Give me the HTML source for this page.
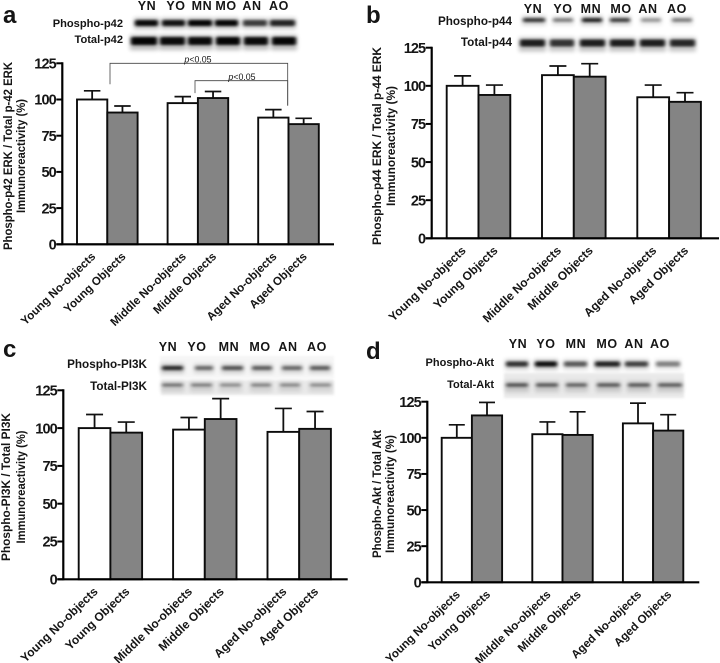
<!DOCTYPE html>
<html lang="en">
<head>
<meta charset="utf-8">
<title>Phospho-protein immunoreactivity by age and object exposure</title>
<style>
html,body{margin:0;padding:0;background:#fff;width:720px;height:663px;overflow:hidden}
svg{display:block;filter:blur(0.35px)}
text{font-family:"Liberation Sans",sans-serif;fill:#151515}
</style>
</head>
<body>
<svg id="figure" xmlns="http://www.w3.org/2000/svg" width="720" height="663" viewBox="0 0 720 663">
<defs>
<filter id="blot-blur" x="-30%" y="-150%" width="160%" height="400%"><feGaussianBlur stdDeviation="1.8 1.3"/></filter>
<filter id="blot-halo" x="-30%" y="-100%" width="160%" height="300%"><feGaussianBlur stdDeviation="2.2"/></filter>
<filter id="blot-soft" x="-10%" y="-30%" width="120%" height="160%"><feGaussianBlur stdDeviation="1.2"/></filter>
</defs>
</svg>
<script>
const categories = ['Young No-objects', 'Young Objects', 'Middle No-objects', 'Middle Objects', 'Aged No-objects', 'Aged Objects'];
const laneLabels = ['YN', 'YO', 'MN', 'MO', 'AN', 'AO'];
const tickLabels = [0, 25, 50, 75, 100, 125];

const valuesA = [100, 91, 97.5, 101, 87.5, 83];
const errorTopsA = [106, 95.5, 102, 105.5, 93, 87];
const valuesB = [100, 94, 107, 106, 92.5, 89.5];
const errorTopsB = [106.5, 100.5, 113, 114.5, 100.5, 95.5];
const valuesC = [100, 97, 99, 106, 97.5, 99.5];
const errorTopsC = [109, 104, 107, 119.5, 113, 111];
const valuesD = [100, 115.5, 102.5, 102, 110, 105];
const errorTopsD = [109, 124.5, 111, 118, 124, 116];

const panels = [
  { id: 'a', values: valuesA, tops: errorTopsA, axisX: 62.3, y0: 244.3, y125: 63.3, xEnd: 334, barLeft: 77, barW: 30.3, gap: 30, capW: 16.5,
    letterX: 3, letterY: 23, tickFs: 14.5, tickSp: -0.9, catFs: 11.6, catDx: 4, catDy: 13,
    title: ['Phospho-p42 ERK / Total p-42 ERK', 'Immunoreactivity (%)'], titleX: [12, 25], titleY: 156, titleLen: [188, 114], titleFs: 12,
    laneY: 10, laneXs: [147, 176, 202, 226, 252, 279], rowEnd: 123, rowFs: 11.1, rowY: [27, 43], rowNames: ['Phospho-p42', 'Total-p42'],
    bandY: [23, 41], bandH: [6, 8], bandX: [[135, 158], [162, 185], [188, 212], [215, 238], [243, 267], [270, 295]],
    bandX2: [[131, 157], [160, 185], [188, 212], [216, 240], [244, 268], [272, 296]],
    dark: [0.95, 0.9, 0.98, 0.97, 0.7, 0.82], dark2: [0.98, 0.95, 0.95, 0.98, 0.95, 0.97], bg: null },
  { id: 'b', values: valuesB, tops: errorTopsB, axisX: 431.7, y0: 238.3, y125: 47.7, xEnd: 719, barLeft: 446.7, barW: 31.8, gap: 31.7, capW: 17,
    letterX: 366, letterY: 23, tickFs: 14.5, tickSp: -0.9, catFs: 12, catDx: 4, catDy: 13,
    title: ['Phospho-p44 ERK / Total p-44 ERK', 'Immunoreactivity (%)'], titleX: [381, 395], titleY: 146, titleLen: [198, 120], titleFs: 12.4,
    laneY: 13, laneXs: [533, 563, 591, 621, 648, 677], rowEnd: 512, rowFs: 11.7, rowY: [25, 46], rowNames: ['Phospho-p44', 'Total-p44'],
    bandY: [20, 43], bandH: [4, 7], bandX: [[523, 545], [553, 573], [582, 602], [610, 630], [641, 661], [672, 692]],
    bandX2: [[520, 545], [550, 574], [580, 605], [610, 635], [640, 665], [670, 695]],
    dark: [0.72, 0.42, 0.82, 0.68, 0.32, 0.42], dark2: [0.85, 0.75, 0.85, 0.85, 0.85, 0.8], bg: null },
  { id: 'c', values: valuesC, tops: errorTopsC, axisX: 63.3, y0: 579.3, y125: 390.3, xEnd: 347.7, barLeft: 78.7, barW: 31.7, gap: 31, capW: 17,
    letterX: 3, letterY: 357, tickFs: 14.5, tickSp: -0.9, catFs: 12, catDx: 4, catDy: 13,
    title: ['Phospho-PI3K / Total PI3K', 'Immunoreactivity (%)'], titleX: [10, 25], titleY: 487, titleLen: [148, 113], titleFs: 11.6,
    laneY: 351, laneXs: [168, 197, 229, 260, 288, 317], rowEnd: 147, rowFs: 11.7, rowY: [368, 390], rowNames: ['Phospho-PI3K', 'Total-PI3K'],
    bandY: [368, 385], bandH: [4, 3], bandX: [[162, 183], [195, 213], [222, 243], [252, 272], [282, 302], [310, 330]],
    bandX2: [[162, 183], [191, 212], [220, 241], [251, 271], [280, 300], [310, 331]],
    dark: [0.8, 0.5, 0.6, 0.55, 0.5, 0.55], dark2: [0.45, 0.4, 0.34, 0.38, 0.36, 0.34], bg: [161, 380, 173, 15], bg2: [160, 356, 174, 22] },
  { id: 'd', values: valuesD, tops: errorTopsD, axisX: 427.3, y0: 582.3, y125: 401.7, xEnd: 699.3, barLeft: 441.7, barW: 30.2, gap: 30.2, capW: 16,
    letterX: 366, letterY: 359, tickFs: 14.5, tickSp: -0.9, catFs: 11.6, catDx: 4, catDy: 13,
    title: ['Phospho-Akt / Total Akt', 'Immunoreactivity (%)'], titleX: [381, 394], titleY: 494, titleLen: [128, 118], titleFs: 11.6,
    laneY: 348, laneXs: [518, 546, 576, 607, 634, 660], rowEnd: 494, rowFs: 11, rowY: [366, 388], rowNames: ['Phospho-Akt', 'Total-Akt'],
    bandY: [364, 385], bandH: [5, 3.5], bandX: [[506, 528], [535, 557], [564, 587], [595, 620], [625, 648], [656, 680]],
    bandX2: [[506, 528], [536, 558], [566, 587], [597, 620], [628, 650], [658, 682]],
    dark: [0.75, 0.92, 0.58, 0.82, 0.68, 0.42], dark2: [0.58, 0.55, 0.5, 0.55, 0.55, 0.53], bg: [504, 373, 180, 25] }
];

const svg = document.getElementById('figure');
const NS = 'http://www.w3.org/2000/svg';

function make(tag, attrs, parent) {
  const el = document.createElementNS(NS, tag);
  for (const k in attrs) el.setAttribute(k, attrs[k]);
  parent.appendChild(el);
  return el;
}

function yScale(p, v) { return p.y0 - (v / 125) * (p.y0 - p.y125); }
function barX(p, i) { return p.barLeft + i * p.barW + Math.floor(i / 2) * p.gap; }

function slug(s) { return s.toLowerCase().replace(/[^a-z0-9]+/g, '-'); }

panels.forEach(function (p) {
  const g = make('g', {}, svg);
  
  

  const letter = make('text', { x: p.letterX, y: p.letterY, 'font-size': 24, 'font-weight': 'bold', fill: '#000' }, g);
  letter.textContent = p.id;
  
  

  // Western blot strip
  const blot = make('g', {}, g);
  
  
  if (p.bg2) {
    const bg2 = make('rect', { x: p.bg2[0], y: p.bg2[1], width: p.bg2[2], height: p.bg2[3], fill: '#f5f5f5', filter: 'url(#blot-soft)' }, blot);
    
    
  }
  if (p.bg) {
    const bg = make('rect', { x: p.bg[0], y: p.bg[1], width: p.bg[2], height: p.bg[3], fill: '#e9e9e9', filter: 'url(#blot-soft)' }, blot);
    
    
  }
  laneLabels.forEach(function (lab, i) {
    const t = make('text', { x: p.laneXs[i], y: p.laneY, 'font-size': 12.5, 'font-weight': 'bold', 'text-anchor': 'middle', 'letter-spacing': 0.6 }, g);
    t.textContent = lab;
    
    

    const h1 = make('rect', { x: p.bandX[i][0] - 1, y: p.bandY[0] - p.bandH[0] / 2 - 2, width: p.bandX[i][1] - p.bandX[i][0] + 2, height: p.bandH[0] + 5, fill: '#000', opacity: p.dark[i] * 0.28, filter: 'url(#blot-halo)' }, blot);
    
    

    const b1 = make('rect', { x: p.bandX[i][0], y: p.bandY[0] - p.bandH[0] / 2, width: p.bandX[i][1] - p.bandX[i][0], height: p.bandH[0], rx: 2, fill: '#000', opacity: p.dark[i], filter: 'url(#blot-blur)' }, blot);
    
    

    const h2 = make('rect', { x: p.bandX2[i][0] - 1, y: p.bandY[1] - p.bandH[1] / 2 - 2, width: p.bandX2[i][1] - p.bandX2[i][0] + 2, height: p.bandH[1] + 7, fill: '#000', opacity: p.dark2[i] * 0.28, filter: 'url(#blot-halo)' }, blot);
    
    

    const b2 = make('rect', { x: p.bandX2[i][0], y: p.bandY[1] - p.bandH[1] / 2, width: p.bandX2[i][1] - p.bandX2[i][0], height: p.bandH[1], rx: 2, fill: '#000', opacity: p.dark2[i], filter: 'url(#blot-blur)' }, blot);
    
    
  });
  p.rowNames.forEach(function (name, i) {
    const t = make('text', { x: p.rowEnd, y: p.rowY[i], 'font-size': p.rowFs, 'font-weight': 'bold', 'text-anchor': 'end' }, g);
    t.textContent = name;
    
    
  });

  // Axis title
  p.title.forEach(function (line, i) {
    const t = make('text', {
      transform: 'translate(' + p.titleX[i] + ',' + p.titleY + ') rotate(-90)',
      'font-size': p.titleFs, 'font-weight': 'bold', 'text-anchor': 'middle',
      textLength: p.titleLen[i], lengthAdjust: 'spacingAndGlyphs', fill: '#222'
    }, g);
    t.textContent = line;
    
    
  });

  // Bars and error bars
  p.values.forEach(function (v, i) {
    const x = barX(p, i);
    const cx = x + p.barW / 2;
    const yv = yScale(p, v);
    const yt = yScale(p, p.tops[i]);

    const stem = make('line', { x1: cx, x2: cx, y1: yt, y2: yv, stroke: '#111', 'stroke-width': 1.8 }, g);
    
    

    const cap = make('line', { x1: cx - p.capW / 2, x2: cx + p.capW / 2, y1: yt, y2: yt, stroke: '#111', 'stroke-width': 1.7 }, g);
    
    

    const bar = make('rect', { x: x, y: yv, width: p.barW, height: p.y0 - yv, fill: i % 2 ? '#848484' : '#ffffff', stroke: '#0c0c0c', 'stroke-width': 1.9 }, g);
    
    

    const lx = cx + p.catDx;
    const ly = p.y0 + p.catDy;
    const t = make('text', {
      transform: 'translate(' + lx + ',' + ly + ') rotate(-44)',
      'font-size': p.catFs, 'font-weight': 'bold', 'text-anchor': 'end', fill: '#222'
    }, g);
    t.textContent = categories[i];
    
    
  });

  // Axes
  const yAxis = make('line', { x1: p.axisX, x2: p.axisX, y1: p.y125 - 1, y2: p.y0 + 1, stroke: '#000', 'stroke-width': 2.2 }, g);
  
  

  const xAxis = make('line', { x1: p.axisX - 6, x2: p.xEnd, y1: p.y0, y2: p.y0, stroke: '#000', 'stroke-width': 2.2 }, g);
  
  

  tickLabels.forEach(function (v) {
    const y = yScale(p, v);
    const tick = make('line', { x1: p.axisX - 6, x2: p.axisX, y1: y, y2: y, stroke: '#000', 'stroke-width': 2 }, g);
    
    

    const t = make('text', { x: p.axisX - 6.5, y: y + 5.2, 'font-size': p.tickFs, 'font-weight': 'bold', 'text-anchor': 'end', 'letter-spacing': p.tickSp, fill: '#000' }, g);
    t.textContent = v;
    
    
  });
});

// Significance brackets on panel a
const bracketIndexes = [[0, 4], [2, 4]];
const bracketValues = [125, 113];
const bracketLabel = 'p<0.05';
bracketIndexes.forEach(function (pair, n) {
  const p = panels[0];
  const left = n === 0 ? 110 : 195;
  const right = 287.7;
  const yb = yScale(p, bracketValues[n]);
  const yl = yScale(p, p.tops[pair[0]]) - 3.5 + (n === 0 ? -3 : 0);
  const yr = yScale(p, p.tops[pair[1]]) - 3.5 - 0.5;
  const path = make('path', { d: 'M' + left + ' ' + yl + 'V' + yb + 'H' + right + 'V' + yr, fill: 'none', stroke: '#444', 'stroke-width': 0.8 }, svg);
  
  

  const t = make('text', { x: n === 0 ? 198 : 242, y: yb - 0.6, 'font-size': 8.8, 'text-anchor': 'middle', fill: '#333' }, svg);
  
  
  const it = make('tspan', { 'font-style': 'italic' }, t);
  it.textContent = bracketLabel.charAt(0);
  const rest = make('tspan', {}, t);
  rest.textContent = bracketLabel.slice(1);
});
</script>
</body>
</html>
